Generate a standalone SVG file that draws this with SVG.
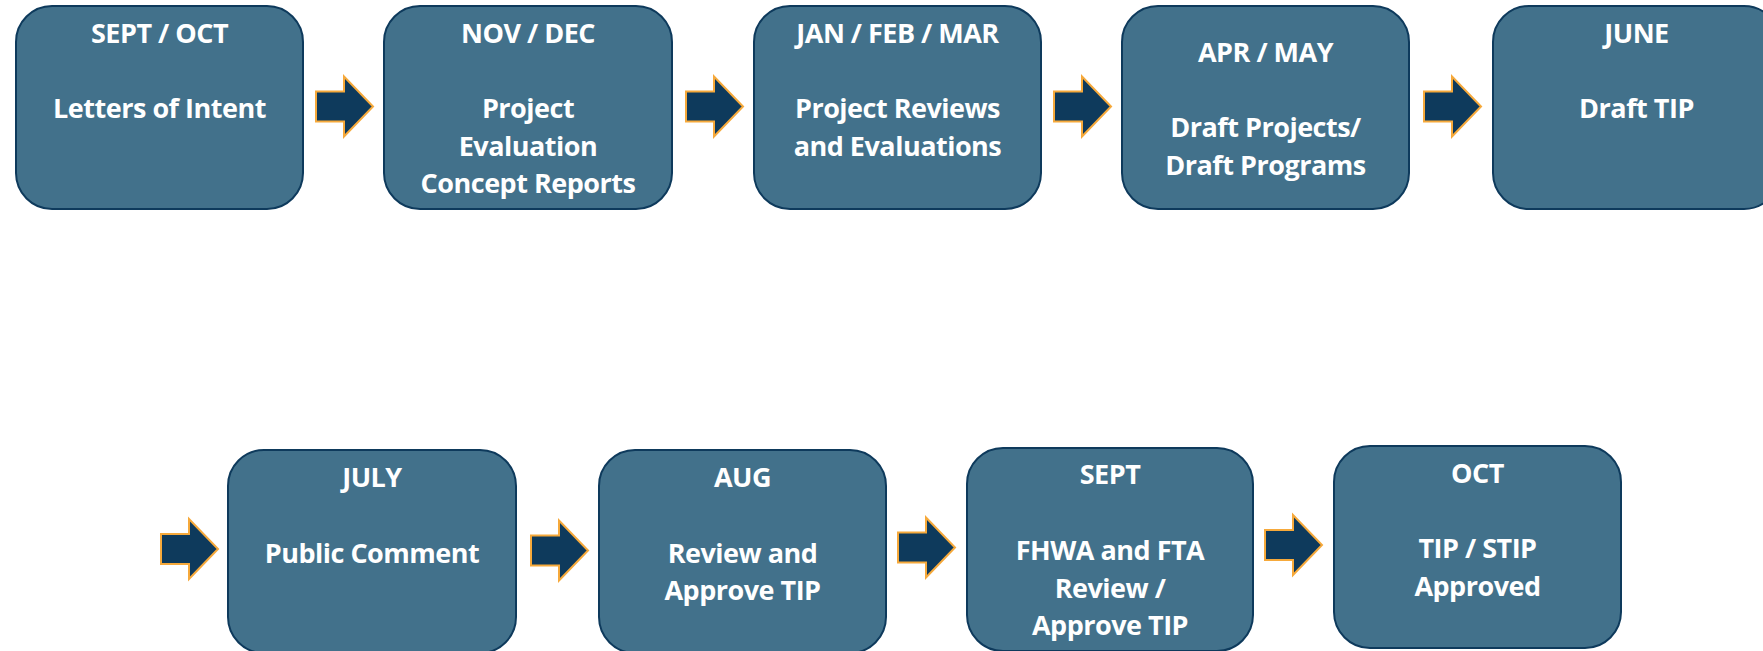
<svg xmlns="http://www.w3.org/2000/svg" width="1763" height="651" viewBox="0 0 1763 651">
<defs>
<style>
.box{fill:#42718b;stroke:#0e3a5c;stroke-width:2}
.arr{fill:#0e3a5c;stroke:#f6a93b;stroke-width:2;stroke-linejoin:miter}
text{font-family:"Open Sans","Noto Sans","Liberation Sans",sans-serif;font-weight:bold;font-size:27px;letter-spacing:-0.5px;fill:#ffffff;text-anchor:middle}
</style>
<path id="arrow" d="M0,-15 H28 V-30 L57,0 L28,30 V15 H0 Z"/>
</defs>
<rect width="1763" height="651" fill="#ffffff"/>
<g id="connectors">
<use href="#arrow" class="arr" x="316" y="106.5"/>
<use href="#arrow" class="arr" x="686" y="106.5"/>
<use href="#arrow" class="arr" x="1054" y="106.5"/>
<use href="#arrow" class="arr" x="1424" y="106.5"/>
<use href="#arrow" class="arr" x="161" y="549"/>
<use href="#arrow" class="arr" x="531" y="550.5"/>
<use href="#arrow" class="arr" x="898" y="547.5"/>
<use href="#arrow" class="arr" x="1265" y="545"/>
</g>
<g id="n1">
<rect class="box" x="16" y="6" width="287" height="203" rx="36"/>
<text x="159.5" y="43">SEPT / OCT</text>
<text x="159.5" y="118">Letters of Intent</text>
</g>
<g id="n2">
<rect class="box" x="384" y="6" width="288" height="203" rx="36"/>
<text x="528" y="43">NOV / DEC</text>
<text x="528" y="118">Project</text>
<text x="528" y="155.5">Evaluation</text>
<text x="528" y="193">Concept Reports</text>
</g>
<g id="n3">
<rect class="box" x="754" y="6" width="287" height="203" rx="36"/>
<text x="897.5" y="43">JAN / FEB / MAR</text>
<text x="897.5" y="118">Project Reviews</text>
<text x="897.5" y="155.5">and Evaluations</text>
</g>
<g id="n4">
<rect class="box" x="1122" y="6" width="287" height="203" rx="36"/>
<text x="1265.5" y="62">APR / MAY</text>
<text x="1265.5" y="137">Draft Projects/</text>
<text x="1265.5" y="174.5">Draft Programs</text>
</g>
<g id="n5">
<rect class="box" x="1493" y="6" width="287" height="203" rx="36"/>
<text x="1636.5" y="43">JUNE</text>
<text x="1636.5" y="118">Draft TIP</text>
</g>
<g id="n6">
<rect class="box" x="228" y="450" width="288" height="203" rx="36"/>
<text x="372" y="487">JULY</text>
<text x="372" y="563">Public Comment</text>
</g>
<g id="n7">
<rect class="box" x="599" y="450" width="287" height="203" rx="36"/>
<text x="742.5" y="487">AUG</text>
<text x="742.5" y="563">Review and</text>
<text x="742.5" y="600">Approve TIP</text>
</g>
<g id="n8">
<rect class="box" x="967" y="448" width="286" height="203" rx="36"/>
<text x="1110" y="484">SEPT</text>
<text x="1110" y="560">FHWA and FTA</text>
<text x="1110" y="598">Review /</text>
<text x="1110" y="635">Approve TIP</text>
</g>
<g id="n9">
<rect class="box" x="1334" y="446" width="287" height="202" rx="36"/>
<text x="1477.5" y="483">OCT</text>
<text x="1477.5" y="558">TIP / STIP</text>
<text x="1477.5" y="596">Approved</text>
</g>
</svg>
